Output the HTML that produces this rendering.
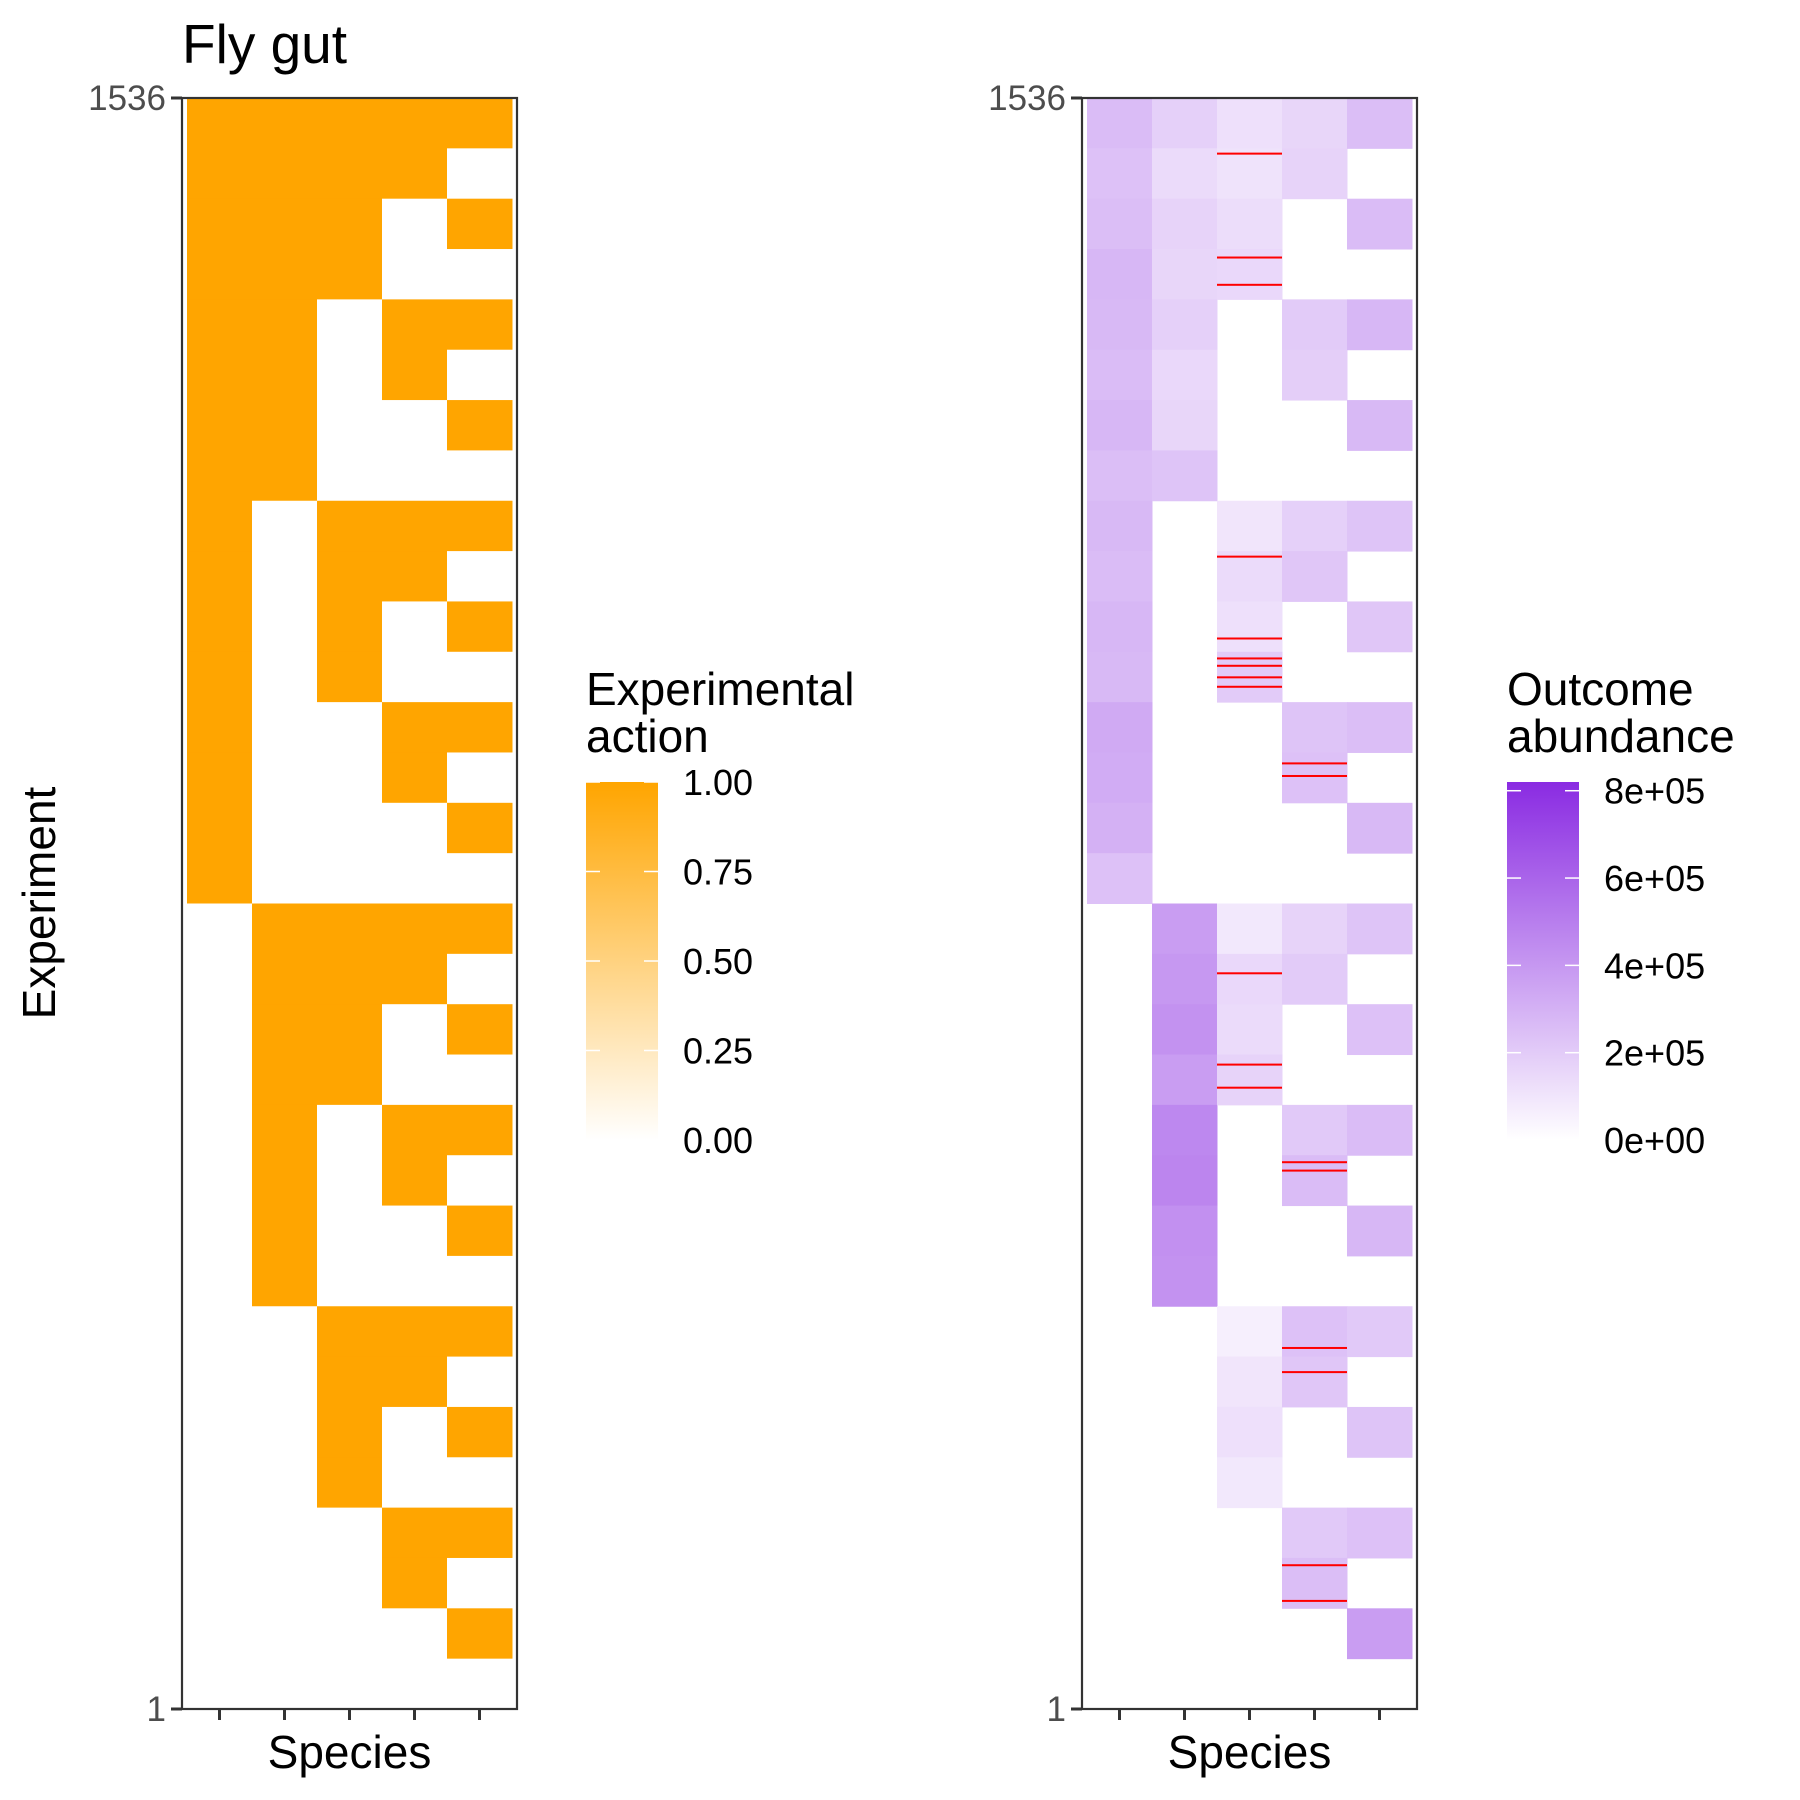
<!DOCTYPE html>
<html><head><meta charset="utf-8"><style>
html,body{margin:0;padding:0;background:#fff}
svg{display:block;font-family:"Liberation Sans",Arial,sans-serif}
</style></head><body>
<svg id="chart" width="1800" height="1800" viewBox="0 0 1800 1800" xmlns="http://www.w3.org/2000/svg">
<defs>
<linearGradient id="gOr" x1="0" y1="1" x2="0" y2="0"><stop offset="0" stop-color="#ffffff"/><stop offset="1" stop-color="#ffa500"/></linearGradient>
<linearGradient id="gPu" x1="0" y1="1" x2="0" y2="0"><stop offset="0" stop-color="#ffffff"/><stop offset="1" stop-color="#8a2be2"/></linearGradient>
</defs>
<text x="182" y="63" font-size="55" fill="#000">Fly gut</text>
<text transform="translate(55,903) rotate(-90)" text-anchor="middle" font-size="46" fill="#000">Experiment</text>
<g id="left"></g>
<g id="right"></g>
<g>
<text x="586" y="705" font-size="46">Experimental</text>
<text x="586" y="752" font-size="46">action</text>
<rect x="586" y="782" width="72" height="358" fill="url(#gOr)"/>
<g id="legL"></g>
</g>
<g>
<text x="1507" y="705" font-size="46">Outcome</text>
<text x="1507" y="752" font-size="46">abundance</text>
<rect x="1507" y="782" width="72" height="358" fill="url(#gPu)"/>
<g id="legR"></g>
</g>
</svg>
<script>
// ---- data ----
const species = ["sp1","sp2","sp3","sp4","sp5"];
const nExp = 1536;
const nBlocks = 32; // blocks listed top (highest experiment) to bottom
const action1 = [1,1,1,1,1,1,1,1,1,1,1,1,1,1,1,1,0,0,0,0,0,0,0,0,0,0,0,0,0,0,0,0];
const action2 = [1,1,1,1,1,1,1,1,0,0,0,0,0,0,0,0,1,1,1,1,1,1,1,1,0,0,0,0,0,0,0,0];
const action3 = [1,1,1,1,0,0,0,0,1,1,1,1,0,0,0,0,1,1,1,1,0,0,0,0,1,1,1,1,0,0,0,0];
const action4 = [1,1,0,0,1,1,0,0,1,1,0,0,1,1,0,0,1,1,0,0,1,1,0,0,1,1,0,0,1,1,0,0];
const action5 = [1,0,1,0,1,0,1,0,1,0,1,0,1,0,1,0,1,0,1,0,1,0,1,0,1,0,1,0,1,0,1,0];
// mean outcome abundance per block (thousands), null = species absent
const abund1 = [260,240,250,280,270,260,280,250,270,260,280,270,330,320,300,240,null,null,null,null,null,null,null,null,null,null,null,null,null,null,null,null];
const abund2 = [180,140,170,160,180,150,160,230,null,null,null,null,null,null,null,null,380,400,420,380,460,470,430,420,null,null,null,null,null,null,null,null];
const abund3 = [120,110,130,150,null,null,null,null,100,140,120,200,null,null,null,null,90,150,140,170,null,null,null,null,60,100,120,90,null,null,null,null];
const abund4 = [160,170,null,null,200,190,null,null,180,220,null,null,230,240,null,null,170,200,null,null,210,260,null,null,240,220,null,null,210,250,null,null];
const abund5 = [250,null,260,null,280,null,270,null,230,null,220,null,250,null,270,null,230,null,240,null,260,null,280,null,210,null,230,null,240,null,380,null];
// out-of-range (red) rows: species index, experiment number
const redSpecies = [2,2,2,2,2,2,2,2,2,2,2,2,3,3,3,3,3,3,3,3];
const redExp = [1483,1384,1358,1099,1021,1002,995,984,975,702,615,593,902,890,522,514,345,322,138,104];
const actionTicks = [0,0.25,0.5,0.75,1];
const actionTickLabels = ["0.00","0.25","0.50","0.75","1.00"];
const abundTicks = [0,200,400,600,800];
const abundTickLabels = ["0e+00","2e+05","4e+05","6e+05","8e+05"];
const abundMax = 820;
const yTicks = [1,1536];

// ---- scales ----
const NS="http://www.w3.org/2000/svg";
const yTop=98, yBot=1709;
const yExp = e => yBot - (e-1)*(yBot-yTop)/(nExp-1);
const blockH = (yBot-yTop)/nBlocks;
const yBlock = t => yTop + t*blockH;
function mk(tag,attrs,parent){const el=document.createElementNS(NS,tag);for(const k in attrs)el.setAttribute(k,attrs[k]);parent.appendChild(el);return el;}
function mix(v){const f=Math.max(0,Math.min(1,v/abundMax));const r=Math.round(255+(138-255)*f),g=Math.round(255+(43-255)*f),b=Math.round(255+(226-255)*f);return `rgb(${r},${g},${b})`;}

function panel(px){
  const x0=px, x1=px+335, tileL=px+5, colW=(x1-5-tileL)/5;
  const xCol = j => tileL + j*colW;
  return {x0,x1,colW,xCol};
}
function axes(g,p,pname){
  const f=mk('rect',{x:p.x0,y:yTop,width:p.x1-p.x0,height:yBot-yTop,fill:'none',stroke:'#333',"stroke-width":2.2},g);
  
  
  yTicks.forEach(v=>{
    const t=mk('line',{x1:p.x0-11,x2:p.x0,y1:yExp(v),y2:yExp(v),stroke:'#333',"stroke-width":3},g);
    
    
    const l=mk('text',{x:p.x0-16,y:yExp(v)+12,"text-anchor":"end","font-size":35,fill:'#4d4d4d'},g);
    l.textContent=v;
    
    
  });
  species.forEach((s,j)=>{
    const cx=p.xCol(j)+p.colW/2;
    const t=mk('line',{x1:cx,x2:cx,y1:yBot,y2:yBot+11,stroke:'#333',"stroke-width":3},g);
    
    
  });
  const xt=mk('text',{x:(p.x0+p.x1)/2,y:1768,"text-anchor":"middle","font-size":46,fill:'#000'},g);
  xt.textContent='Species';
  
  
}

const gl=document.getElementById('left');
const pl=panel(182);
[action1,action2,action3,action4,action5].forEach((arr,j)=>{
  arr.forEach((v,t)=>{
    const r=mk('rect',{x:pl.xCol(j),y:yBlock(t),width:pl.colW+0.5,height:blockH+0.5,fill:v?'#ffa500':'#ffffff'},gl);
    
    
  });
});
axes(gl,pl,'action-panel');

const gr=document.getElementById('right');
const pr=panel(1082);
[abund1,abund2,abund3,abund4,abund5].forEach((arr,j)=>{
  arr.forEach((v,t)=>{
    if(v===null) return;
    const r=mk('rect',{x:pr.xCol(j),y:yBlock(t),width:pr.colW+0.5,height:blockH+0.5,fill:mix(v)},gr);
    
    
  });
});
redExp.forEach((e,i)=>{
  const j=redSpecies[i];
  const l=mk('rect',{x:pr.xCol(j),y:yExp(e)-1,width:pr.colW,height:2,fill:'#ff0000'},gr);
  
  
});
axes(gr,pr,'abundance-panel');

function legend(id,x,ticks,labels,max){
  const g=document.getElementById(id);
  ticks.forEach((v,i)=>{
    const y=1140-(v/max)*358;
    if(v>0){
      mk('line',{x1:x,x2:x+14,y1:y,y2:y,stroke:'#fff',"stroke-width":1.5},g);
      mk('line',{x1:x+58,x2:x+72,y1:y,y2:y,stroke:'#fff',"stroke-width":1.5},g);
    }
    const t=mk('text',{x:x+97,y:y+13,"font-size":36,fill:'#000'},g);
    t.textContent=labels[i];
    
    
  });
}
legend('legL',586,actionTicks,actionTickLabels,1);
legend('legR',1507,abundTicks,abundTickLabels,abundMax);
</script>
</body></html>
